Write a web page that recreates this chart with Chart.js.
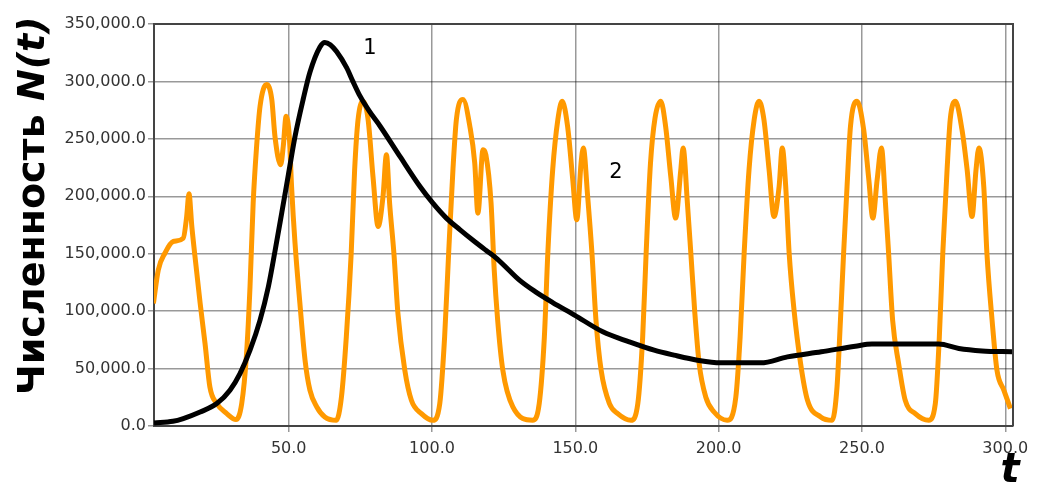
<!DOCTYPE html>
<html>
<head>
<meta charset="utf-8">
<script src="https://cdn.jsdelivr.net/npm/chart.js@4"></script>
<style>
  html, body { margin: 0; padding: 0; background: #fff; }
  #wrap { width: 1048px; height: 484px; position: relative; }
</style>
</head>
<body>
<div id="wrap"><canvas id="myChart"></canvas></div>
<script>
// кривая 1 (чёрная)
const tBlack = [3, 9.6, 13.2, 19.1, 24.9, 29.5, 33, 36.5, 40, 42.9, 45.2, 47.6, 49.9, 52.2, 55.1, 57.4,
  60.9, 62.6, 64.5, 66.7, 70.2, 72.3, 74.5, 78, 81.9, 88.8, 95.8, 100.3, 105, 109.8, 114.4, 118.8, 122.5, 126.5, 130.5,
  136, 142.1, 149.7, 159.6, 168.8, 177.5, 184.4, 192.6, 200.7, 214.7, 224, 235.8, 247.7, 253.5, 276.8,
  283.8, 291.9, 302.4];
const nBlack = [2600, 4100, 6500, 12200, 19500, 31200, 45700, 66000, 92200, 121300, 152000, 186000, 219000, 252000, 285000, 308000,
  330000, 334000, 332000, 326000, 312000, 300500, 289000, 274500, 261000, 234700, 208500, 194000, 181000, 170800, 161500, 153000, 146000, 136500, 127000,
  117000, 107500, 96600, 82000, 73300, 66000, 61700, 57300, 55000, 55000, 60200, 64600, 69500, 71300, 71300,
  67500, 65400, 64600];

// кривая 2 (оранжевая)
const tOrange = [2.8, 4.5, 6.8, 9.7, 13.2, 14.4, 15.2, 16.2, 17.3, 19.1, 20.8, 22.5, 24.9, 28.4, 31.6,
  33.6, 35.3, 36.5, 37.6, 38.8, 40.0, 42.3, 44.1, 45.2, 47.2, 48.1, 49.1, 50.2, 51.0, 52.2, 53.9, 55.7, 57.4, 59.8,
  62.6, 66.6, 68.4, 70.1, 71.8, 73.0, 74.2, 75.9, 77.7, 79.4, 81.2, 82.9, 84.1, 85.2, 86.7, 88.1, 90.5, 92.8, 96.3,
  100.3, 102.7, 104.4, 105.8, 107.3, 108.5, 110.8, 113.2, 114.9, 116.0, 117.8, 118.8, 120.6, 121.7, 122.9, 124.7, 128.2,
  135.1, 137.4, 139.2, 140.4, 142.1, 143.9, 145.4, 147.3, 149.1, 150.5, 152.0, 152.8, 154.3, 155.8, 157.2, 159.0, 161.9, 164.8,
  169.4, 171.8, 173.5, 174.7, 176.2, 177.8, 179.8, 181.5, 183.3, 185.0, 186.8, 187.6, 189.1, 190.3, 191.7, 193.2, 195.5, 198.4,
  203.0, 206.0, 207.5, 208.9, 210.6, 212.4, 214.1, 215.8, 217.6, 219.3, 221.1, 222.2, 223.4, 224.6, 226.3, 228.6, 231.0, 235.6,
  239.6, 241.3, 242.5, 243.6, 244.8, 246.0, 248.3, 250.6, 252.4, 253.8, 255.3, 256.8, 258.2, 259.3, 260.7, 262.8, 265.1, 268.6,
  273.3, 275.6, 277.0, 278.2, 279.7, 280.8, 282.6, 284.9, 286.7, 288.4, 289.8, 290.8, 292.5, 293.6, 295.4, 297.1, 299.5, 301.8];
const nOrange = [106800, 135900, 150400, 160600, 163500, 182400, 202200, 173700, 147500, 106800, 71900, 34000, 19500, 10800, 5600,
  19500, 63200, 121300, 194100, 243500, 278400, 297300, 284200, 252200, 227500, 243500, 269600, 252200, 208500, 159200, 106800, 57300, 31200, 16600,
  7900, 5000, 25300, 77700, 150400, 223100, 266800, 282700, 266800, 217300, 173700, 199800, 236200, 194100, 150400, 98100, 48600, 22400, 10800,
  5000, 19500, 77700, 150400, 223100, 266800, 284200, 260900, 229000, 185300, 240600, 236000, 194100, 135900, 92200, 48600, 16600,
  5000, 19500, 77700, 150400, 223100, 266800, 282700, 260900, 214400, 179500, 229000, 242100, 199800, 150400, 92200, 48600, 19500, 10800,
  5000, 19500, 77700, 150400, 228000, 268000, 282700, 260900, 217300, 181000, 223100, 242100, 194100, 150400, 98100, 54400, 25300, 12200,
  5000, 25300, 77700, 150400, 223100, 266800, 282700, 266800, 223100, 182400, 208500, 242100, 208500, 150400, 101000, 54400, 22400, 7900,
  5000, 34000, 92200, 150400, 208500, 260900, 282700, 258000, 214400, 181000, 214400, 242100, 194100, 150400, 92200, 54400, 22400, 10800,
  5000, 19500, 77700, 150400, 223100, 266800, 282700, 258000, 223100, 182400, 223100, 242100, 208500, 150400, 92200, 48600, 31200, 15200];

const xTicks = [50, 100, 150, 200, 250, 300];
const yMax = 350000;

const toPoints = (xs, ys) => xs.map((x, i) => ({ x: x, y: ys[i] }));

// рамка сверху и справа
const framePlugin = {
  id: 'frame',
  afterDraw(chart) {
    const { ctx, chartArea: a } = chart;
    ctx.save();
    ctx.strokeStyle = '#444';
    ctx.lineWidth = 2;
    ctx.beginPath();
    ctx.moveTo(a.left, a.top);
    ctx.lineTo(a.right, a.top);
    ctx.lineTo(a.right, a.bottom);
    ctx.stroke();
    ctx.restore();
  }
};

// подписи осей и номера кривых
const labelsPlugin = {
  id: 'labels',
  afterDraw(chart) {
    const ctx = chart.ctx;
    ctx.save();
    ctx.fillStyle = '#000';
    ctx.textBaseline = 'alphabetic';
    // ось Y
    ctx.translate(44, 395);
    ctx.rotate(-Math.PI / 2);
    ctx.textAlign = 'left';
    ctx.font = 'bold 38px "DejaVu Sans"';
    const w1 = ctx.measureText('Численность ').width;
    ctx.fillText('Численность ', 0, 0);
    ctx.font = 'italic bold 38px "DejaVu Sans"';
    ctx.fillText('N(t)', w1, 0);
    ctx.restore();

    ctx.save();
    ctx.fillStyle = '#000';
    ctx.textAlign = 'center';
    ctx.textBaseline = 'alphabetic';
    ctx.font = 'italic bold 40px "DejaVu Sans"';
    ctx.fillText('t', 1010, 482);
    ctx.font = '21px "DejaVu Sans"';
    ctx.fillText('1', 370, 54);
    ctx.fillText('2', 616, 178);
    ctx.restore();
  }
};

const ctx = document.getElementById('myChart').getContext('2d');

window.myChart = new Chart(ctx, {
  type: 'line',
  data: {
    datasets: [
      {
        label: '1',
        data: toPoints(tBlack, nBlack),
        borderColor: '#000',
        borderWidth: 5,
        pointRadius: 0,
        cubicInterpolationMode: 'monotone'
      },
      {
        label: '2',
        data: toPoints(tOrange, nOrange),
        borderColor: '#ff9900',
        borderWidth: 5,
        pointRadius: 0,
        cubicInterpolationMode: 'monotone'
      }
    ]
  },
  options: {
    responsive: true,
    maintainAspectRatio: false,
    animation: false,
    layout: { padding: { left: 0, right: 35, top: 24, bottom: 0 } },
    plugins: {
      legend: { display: false },
      tooltip: { enabled: false }
    },
    scales: {
      x: {
        type: 'linear',
        min: 3,
        max: 302.7,
        afterBuildTicks(scale) {
          scale.ticks = xTicks.map(v => ({ value: v }));
        },
        afterFit(scale) { scale.height = 58; },
        grid: { color: 'rgba(0,0,0,0.4)', lineWidth: 1.5, tickLength: 6 },
        border: { color: '#444', width: 2 },
        ticks: {
          color: '#333',
          font: { family: 'DejaVu Sans', size: 16 },
          padding: 7,
          maxRotation: 0,
          callback: v => v.toFixed(1)
        }
      },
      y: {
        min: 0,
        max: yMax,
        afterFit(scale) { scale.width = 154; },
        grid: { color: 'rgba(0,0,0,0.4)', lineWidth: 1.5, tickLength: 6 },
        border: { color: '#444', width: 2 },
        ticks: {
          stepSize: 50000,
          color: '#333',
          font: { family: 'DejaVu Sans', size: 16 },
          padding: 2,
          callback: v => v.toLocaleString('en-US', { minimumFractionDigits: 1, maximumFractionDigits: 1 })
        }
      }
    }
  },
  plugins: [framePlugin, labelsPlugin]
});
</script>
</body>
</html>
